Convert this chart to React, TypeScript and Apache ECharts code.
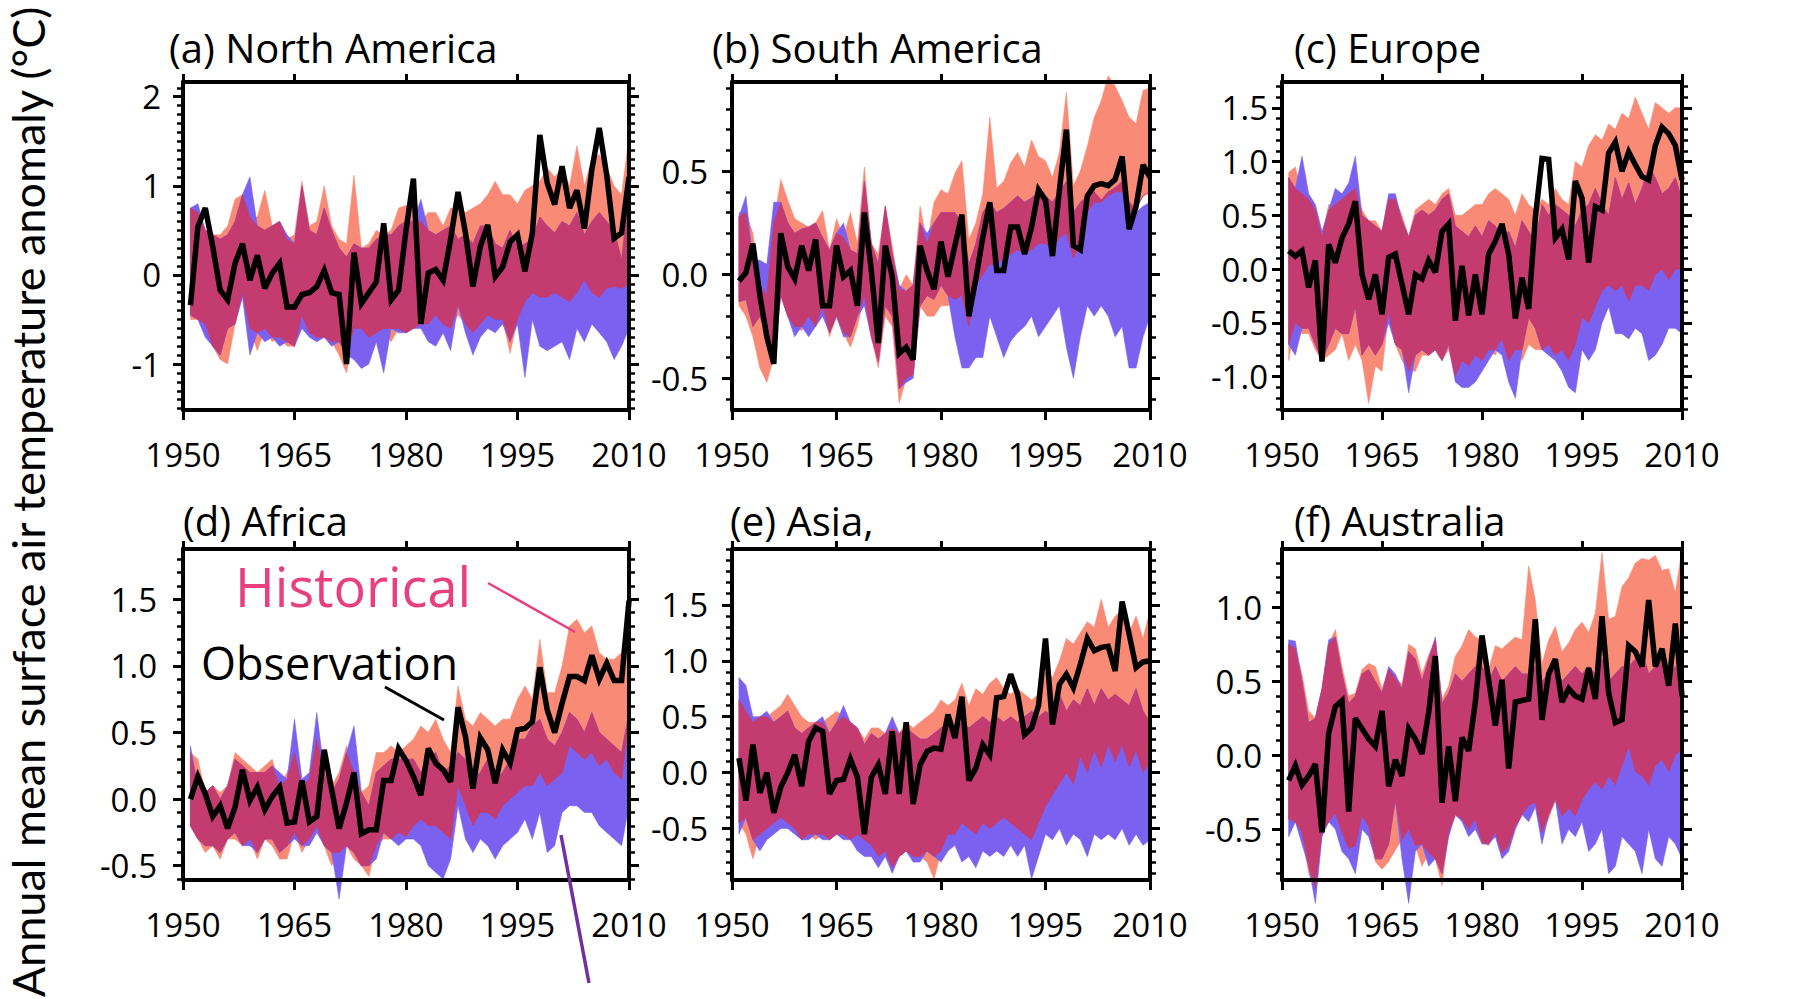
import React, { useEffect, useRef } from "react";
import * as echarts from "echarts";

// ---------------- data ----------------
const YEARS = [
  1951, 1952, 1953, 1954, 1955, 1956, 1957, 1958, 1959, 1960,
  1961, 1962, 1963, 1964, 1965, 1966, 1967, 1968, 1969, 1970,
  1971, 1972, 1973, 1974, 1975, 1976, 1977, 1978, 1979, 1980,
  1981, 1982, 1983, 1984, 1985, 1986, 1987, 1988, 1989, 1990,
  1991, 1992, 1993, 1994, 1995, 1996, 1997, 1998, 1999, 2000,
  2001, 2002, 2003, 2004, 2005, 2006, 2007, 2008, 2009, 2010,
];

// (a) North America
const NA_OBS = [
  -0.34, 0.54, 0.75, 0.32, -0.17, -0.28, 0.13, 0.35, -0.06, 0.22,
  -0.15, 0.02, 0.13, -0.36, -0.36, -0.22, -0.2, -0.13, 0.05, -0.2,
  -0.22, -1.0, 0.25, -0.32, -0.2, -0.08, 0.58, -0.28, -0.17, 0.5,
  1.08, -0.55, 0.02, 0.06, -0.06, 0.4, 0.93, 0.47, -0.13, 0.32,
  0.56, -0.02, 0.09, 0.37, 0.45, 0.04, 0.47, 1.57, 1.03, 0.79,
  1.22, 0.75, 0.95, 0.52, 1.18, 1.65, 1.12, 0.41, 0.47, 1.1,
];
const NA_HIST_HI = [
  0.75, 0.7, 0.5, 0.45, 0.45, 0.55, 0.85, 0.9, 0.65, 0.65,
  0.95, 0.55, 0.6, 0.4, 0.45, 1.05, 0.55, 0.6, 1.0, 0.55,
  0.4, 0.35, 1.12, 0.3, 0.35, 0.5, 0.45, 0.5, 0.75, 0.78,
  0.75, 0.6, 0.7, 0.7, 0.55, 0.75, 0.75, 0.7, 0.75, 0.8,
  0.9, 1.05, 0.9, 0.9, 0.8, 0.95, 1.0, 1.05, 1.2, 1.1,
  1.2, 1.0, 1.45, 1.0, 1.3, 1.35, 1.2, 1.0, 0.9, 1.55,
];
const NA_HIST_LO = [
  -0.5, -0.5, -0.55, -0.8, -0.95, -1.0, -0.55, -0.2, -0.6, -0.85,
  -0.6, -0.75, -0.7, -0.8, -0.8, -0.45, -0.65, -0.7, -0.7, -0.75,
  -0.9, -1.1, -0.6, -0.6, -0.7, -0.65, -0.6, -0.75, -0.6, -0.65,
  -0.6, -0.55, -0.55, -0.45, -0.55, -0.6, -0.45, -0.55, -0.65, -0.55,
  -0.45, -0.5, -0.5, -0.88, -0.5, -0.3, -0.2, -0.25, -0.25, -0.2,
  -0.25, -0.3, -0.2, -0.05, -0.2, -0.25, -0.15, -0.13, -0.15, -0.1,
];
const NA_NAT_HI = [
  0.75, 0.8, 0.5, 0.45, 0.4, 0.45, 0.6, 0.9, 1.1, 0.55,
  0.5, 0.55, 0.6, 0.45, 0.35, 1.0, 0.5, 0.45, 0.75, 0.5,
  0.3, 0.2, 0.35, 0.3, 0.3, 0.4, 0.45, 0.45, 0.55, 0.6,
  0.6, 0.85, 0.5, 0.45, 0.5, 0.55, 0.4, 0.45, 0.35, 0.55,
  0.55, 0.35, 0.3, 0.5, 0.3, 0.35, 0.4, 0.65, 0.55, 0.47,
  0.6, 0.55, 0.7, 0.45, 0.6, 0.7, 0.6, 0.5, 0.17, 0.9,
];
const NA_NAT_LO = [
  -0.45, -0.5, -0.7, -0.8, -0.9, -0.6, -0.55, -0.25, -0.9, -0.65,
  -0.75, -0.7, -0.8, -0.75, -0.8, -0.6, -0.7, -0.75, -0.7, -0.8,
  -0.75, -0.9, -0.95, -1.05, -1.0, -0.75, -1.1, -0.6, -0.65, -0.65,
  -0.6, -0.6, -0.75, -0.8, -0.65, -0.85, -0.34, -0.65, -0.9, -0.7,
  -0.6, -0.65, -0.55, -0.75, -0.55, -1.15, -0.5, -0.8, -0.85, -0.8,
  -0.75, -0.95, -0.6, -0.75, -0.55, -0.65, -0.75, -0.95, -0.8, -0.6,
];
const NA_TICKS = [-1, 0, 1, 2];

// (b) South America
const SA_OBS = [
  -0.03, 0.01, 0.15, -0.1, -0.3, -0.43, 0.2, 0.04, -0.02, 0.14,
  0.02, 0.17, -0.15, -0.15, 0.14, -0.01, 0.02, -0.15, 0.3, 0.02,
  -0.33, 0.14, -0.01, -0.38, -0.35, -0.41, 0.14, 0.02, -0.07, 0.16,
  -0.01, 0.14, 0.29, -0.2, -0.02, 0.18, 0.35, 0.02, 0.02, 0.23,
  0.23, 0.1, 0.23, 0.41, 0.36, 0.09, 0.41, 0.7, 0.14, 0.12,
  0.38, 0.43, 0.44, 0.43, 0.46, 0.57, 0.22, 0.33, 0.53, 0.47,
];
const SA_HIST_HI = [
  0.3, 0.3, 0.2, -0.05, -0.1, 0.25, 0.46, 0.36, 0.27, 0.25,
  0.23, 0.25, 0.31, 0.12, 0.27, 0.18, 0.3, 0.15, 0.52, 0.15,
  0.1, 0.33, 0.14, -0.07, 0.0, -0.05, 0.33, 0.15, 0.35, 0.41,
  0.39, 0.49, 0.55, 0.17, 0.25, 0.39, 0.76, 0.42, 0.45, 0.54,
  0.59, 0.52, 0.65, 0.57, 0.55, 0.47, 0.59, 0.88, 0.43, 0.5,
  0.62, 0.76, 0.84, 0.96, 0.91, 0.84, 0.76, 0.73, 0.89, 0.9,
];
const SA_HIST_LO = [
  -0.15, -0.2, -0.3, -0.45, -0.52, -0.4, -0.1, -0.2, -0.25, -0.27,
  -0.2, -0.25, -0.15, -0.3, -0.2, -0.28, -0.35, -0.25, -0.1, -0.3,
  -0.45, -0.2, -0.25, -0.62, -0.5, -0.48, -0.15, -0.2, -0.2, -0.15,
  -0.15, -0.12, -0.1, -0.25, -0.05, 0.0, 0.05, 0.05, 0.08, 0.1,
  0.12, 0.1, 0.12, 0.15, 0.15, 0.12, 0.18, 0.2, 0.08, 0.15,
  0.3, 0.35, 0.35, 0.38, 0.4, 0.4, 0.3, 0.32, 0.38, 0.4,
];
const SA_NAT_HI = [
  0.28, 0.38, 0.07, 0.07, 0.05, 0.35, 0.35, 0.25, 0.2, 0.22,
  0.23, 0.25, 0.18, 0.12, 0.2, 0.25, 0.12, 0.1, 0.45, 0.15,
  0.05, 0.33, 0.1, -0.05, -0.08, -0.05, 0.25, 0.2, 0.25, 0.3,
  0.3, 0.3, 0.25, 0.05, 0.15, 0.3, 0.35, 0.3, 0.32, 0.35,
  0.38, 0.35, 0.37, 0.4, 0.38, 0.35, 0.4, 0.45, 0.3, 0.35,
  0.38, 0.4, 0.36, 0.4, 0.42, 0.45, 0.35, 0.3, 0.33, 0.35,
];
const SA_NAT_LO = [
  -0.13, -0.12, -0.25, -0.2, -0.3, -0.38, -0.1, -0.2, -0.3, -0.25,
  -0.3, -0.25, -0.2, -0.28, -0.2, -0.3, -0.3, -0.2, -0.15, -0.3,
  -0.42, -0.15, -0.2, -0.55, -0.52, -0.5, -0.15, -0.1, -0.12, -0.05,
  -0.1, -0.3, -0.45, -0.45, -0.4, -0.4, -0.2, -0.3, -0.4, -0.32,
  -0.28, -0.25, -0.2, -0.3, -0.25, -0.2, -0.15, -0.35, -0.5, -0.3,
  -0.15, -0.2, -0.15, -0.2, -0.3, -0.25, -0.45, -0.45, -0.3, -0.2,
];
const SA_TICKS = [-0.5, 0, 0.5];

// (c) Europe
const EU_OBS = [
  0.17, 0.12, 0.17, -0.17, 0.08, -0.86, 0.23, 0.06, 0.29, 0.42,
  0.63, -0.05, -0.28, -0.05, -0.42, 0.11, 0.14, -0.14, -0.42, -0.05,
  -0.09, 0.08, -0.03, 0.35, 0.42, -0.48, 0.03, -0.43, -0.05, -0.42,
  0.14, 0.26, 0.42, 0.14, -0.46, -0.08, -0.37, 0.48, 1.03, 1.02,
  0.29, 0.37, 0.09, 0.82, 0.66, 0.06, 0.58, 0.55, 1.08, 1.18,
  0.91, 1.09, 0.97, 0.86, 0.83, 1.15, 1.32, 1.26, 1.15, 0.83,
];
const EU_HIST_HI = [
  0.9, 0.95, 0.7, 0.65, 0.55, 0.3, 0.6, 0.6, 0.65, 0.7,
  0.75, 0.55, 0.45, 0.45, 0.35, 0.65, 0.65, 0.5, 0.3, 0.55,
  0.6, 0.65, 0.6, 0.7, 0.75, 0.5, 0.5, 0.55, 0.6, 0.6,
  0.7, 0.75, 0.7, 0.65, 0.5, 0.7, 0.6, 0.55, 0.65, 0.6,
  0.75, 0.65, 0.6, 1.0, 0.95, 1.15, 1.25, 1.2, 1.35, 1.3,
  1.45, 1.4, 1.6, 1.45, 1.3, 1.55, 1.5, 1.45, 1.5, 1.5,
];
const EU_HIST_LO = [
  -0.85, -0.5, -0.6, -0.6, -0.75, -0.85, -0.8, -0.75, -0.6, -0.85,
  -0.7, -0.85, -1.25, -0.9, -0.95, -0.4, -0.7, -0.85, -0.95, -0.95,
  -0.8, -0.8, -0.75, -0.85, -0.75, -1.0, -0.85, -0.9, -0.8, -0.85,
  -0.75, -0.8, -0.65, -0.85, -0.75, -0.85, -0.7, -0.75, -0.75, -0.7,
  -0.8, -0.75, -0.85, -0.7, -0.45, -0.5, -0.35, -0.2, -0.15, -0.2,
  -0.15, -0.3, -0.15, -0.15, -0.2, -0.05, 0.0, -0.1, 0.0, 0.0,
];
const EU_NAT_HI = [
  0.85, 0.75, 1.05, 0.7, 0.6, 0.35, 0.55, 0.75, 0.7, 0.8,
  1.05, 0.5, 0.45, 0.4, 0.35, 0.7, 0.7, 0.45, 0.3, 0.5,
  0.55, 0.5, 0.55, 0.65, 0.7, 0.4, 0.35, 0.3, 0.4, 0.3,
  0.45, 0.4, 0.3, 0.35, 0.2, 0.45, 0.35, 0.25, 0.6, 0.5,
  0.6, 0.55, 0.5, 0.4, 0.55, 0.6, 0.75, 0.6, 0.5, 0.85,
  0.65, 0.8, 0.6, 0.75, 0.95, 0.85, 0.7, 0.75, 0.85, 0.65,
];
const EU_NAT_LO = [
  -0.7, -0.8, -0.55, -0.55, -0.7, -0.85, -0.7, -0.55, -0.6, -0.6,
  -0.35, -0.8, -0.7, -0.8, -0.7, -0.5, -0.7, -0.75, -1.15, -0.8,
  -0.75, -0.8, -0.75, -0.85, -0.7, -1.05, -1.1, -1.1, -1.05, -0.95,
  -0.85, -0.75, -0.8, -1.05, -1.2, -0.75, -0.45, -0.55, -0.75, -0.8,
  -0.85, -0.95, -1.1, -1.15, -0.75, -0.85, -0.75, -0.5, -0.35, -0.6,
  -0.6, -0.65, -0.55, -0.6, -0.85, -0.8, -0.7, -0.55, -0.55, -0.6,
];
const EU_TICKS = [-1, -0.5, 0, 0.5, 1, 1.5];

// (d) Africa
const AF_OBS = [
  0.0, 0.17, 0.04, -0.13, -0.05, -0.22, -0.06, 0.22, -0.01, 0.09,
  -0.08, 0.02, 0.09, -0.18, -0.17, 0.14, -0.17, -0.13, 0.37, 0.07,
  -0.22, -0.03, 0.2, -0.26, -0.23, -0.23, 0.14, 0.14, 0.38, 0.29,
  0.17, 0.03, 0.38, 0.27, 0.22, 0.13, 0.69, 0.47, 0.08, 0.46,
  0.37, 0.12, 0.37, 0.27, 0.52, 0.53, 0.58, 0.99, 0.67, 0.5,
  0.72, 0.92, 0.92, 0.89, 1.08, 0.9, 1.02, 0.89, 0.89, 1.49,
];
const AF_HIST_HI = [
  0.35, 0.3, 0.05, 0.1, 0.05, 0.1, 0.35, 0.3, 0.25, 0.2,
  0.25, 0.3, 0.1, 0.2, 0.35, 0.1, 0.15, 0.45, 0.3, 0.1,
  0.2, 0.4, 0.2, 0.05, 0.1, 0.35, 0.35, 0.4, 0.35, 0.4,
  0.45, 0.55, 0.5, 0.6, 0.45, 0.35, 0.85, 0.6, 0.55, 0.65,
  0.6, 0.55, 0.6, 0.6, 0.75, 0.85, 0.75, 1.2, 0.8, 0.8,
  1.0, 1.3, 1.35, 1.25, 1.3, 1.1, 1.05, 1.05, 1.1, 1.5,
];
const AF_HIST_LO = [
  -0.2, -0.3, -0.4, -0.35, -0.45, -0.3, -0.3, -0.35, -0.3, -0.45,
  -0.3, -0.35, -0.45, -0.45, -0.25, -0.4, -0.3, -0.2, -0.35, -0.5,
  -0.4, -0.35, -0.45, -0.5, -0.58, -0.35, -0.3, -0.3, -0.25, -0.28,
  -0.2, -0.15, -0.2, -0.2, -0.25, -0.3, 0.1, -0.05, -0.2, -0.1,
  -0.1, -0.15, -0.05, 0.0, 0.05, 0.1, 0.1, 0.2, 0.1, 0.15,
  0.2, 0.4, 0.35, 0.3, 0.35, 0.25, 0.3, 0.2, 0.15, 0.6,
];
const AF_NAT_HI = [
  0.4, 0.1, 0.05, 0.1, 0.0, 0.1, 0.3, 0.25, 0.2, 0.2,
  0.2, 0.25, 0.2, 0.15, 0.6, 0.15, 0.2, 0.65, 0.2, 0.05,
  0.15, 0.35, 0.55, 0.05, -0.05, 0.2, 0.25, 0.3, 0.3, 0.3,
  0.3, 0.2, 0.3, 0.35, 0.2, 0.25, 0.35, 0.3, 0.15, 0.2,
  0.3, 0.15, 0.2, 0.3, 0.45, 0.45, 0.55, 0.6, 0.45, 0.4,
  0.5, 0.65, 0.6, 0.5, 0.65, 0.5, 0.45, 0.4, 0.35, 0.65,
];
const AF_NAT_LO = [
  -0.2, -0.3, -0.35, -0.35, -0.4, -0.3, -0.25, -0.35, -0.35, -0.4,
  -0.3, -0.3, -0.4, -0.35, -0.3, -0.35, -0.35, -0.25, -0.35, -0.4,
  -0.75, -0.35, -0.4, -0.5, -0.5, -0.45, -0.25, -0.3, -0.35, -0.3,
  -0.3, -0.35, -0.5, -0.55, -0.6, -0.45, -0.05, -0.3, -0.4, -0.3,
  -0.35, -0.45, -0.35, -0.3, -0.25, -0.15, -0.3, -0.1, -0.4, -0.35,
  -0.1, -0.05, -0.05, -0.1, -0.1, -0.2, -0.25, -0.3, -0.35, -0.05,
];
const AF_TICKS = [-0.5, 0, 0.5, 1, 1.5];

// (e) Asia
const AS_OBS = [
  0.13, -0.25, 0.25, -0.18, 0.0, -0.36, -0.13, 0.0, 0.16, -0.12,
  0.28, 0.4, 0.37, -0.19, -0.07, -0.06, 0.12, -0.04, -0.55, -0.04,
  0.07, -0.19, 0.37, -0.19, 0.45, -0.28, 0.07, 0.19, 0.22, 0.21,
  0.52, 0.31, 0.68, -0.07, 0.04, 0.25, 0.16, 0.67, 0.68, 0.88,
  0.7, 0.34, 0.4, 0.6, 1.2, 0.43, 0.79, 0.88, 0.76, 0.97,
  1.2, 1.09, 1.12, 1.13, 0.91, 1.53, 1.24, 0.94, 0.99, 1.0,
];
const AS_HIST_HI = [
  0.65, 0.55, 0.45, 0.5, 0.5, 0.55, 0.6, 0.7, 0.6, 0.5,
  0.45, 0.45, 0.45, 0.5, 0.55, 0.5, 0.45, 0.4, 0.3, 0.4,
  0.4, 0.35, 0.4, 0.35, 0.45, 0.4, 0.45, 0.5, 0.55, 0.65,
  0.6, 0.65, 0.8, 0.6, 0.75, 0.7, 0.8, 0.85, 0.75, 0.7,
  0.75, 0.7, 0.65, 0.7, 0.9, 0.85, 1.0, 1.2, 1.15, 1.25,
  1.35, 1.3, 1.55, 1.3, 1.4, 1.45, 1.25, 1.4, 1.2, 1.45,
];
const AS_HIST_LO = [
  -0.45, -0.55, -0.77, -0.55, -0.5, -0.45, -0.4, -0.45, -0.5, -0.6,
  -0.55, -0.6, -0.55, -0.6, -0.55, -0.55, -0.6, -0.55, -0.6, -0.65,
  -0.75, -0.7, -0.85, -0.75, -0.7, -0.75, -0.75, -0.8, -0.95, -0.7,
  -0.55, -0.55, -0.45, -0.5, -0.55, -0.45, -0.5, -0.45, -0.4, -0.45,
  -0.5, -0.55, -0.6, -0.45, -0.3, -0.2, -0.1, 0.0, -0.1, 0.15,
  0.0, 0.2, 0.05, 0.25, 0.1, 0.25, 0.05, 0.2, 0.0, 0.1,
];
const AS_NAT_HI = [
  0.85, 0.78, 0.5, 0.5, 0.55, 0.45, 0.5, 0.55, 0.4, 0.35,
  0.4, 0.45, 0.5, 0.35, 0.45, 0.6, 0.45, 0.4, 0.25, 0.35,
  0.3, 0.35, 0.5, 0.35, 0.4, 0.35, 0.3, 0.3, 0.35, 0.4,
  0.45, 0.4, 0.45, 0.4, 0.45, 0.5, 0.45, 0.5, 0.45, 0.5,
  0.45, 0.5, 0.55, 0.5, 0.55, 0.5, 0.7, 0.55, 0.65, 0.6,
  0.75, 0.6, 0.75, 0.65, 0.7, 0.65, 0.6, 0.75, 0.55, 0.45,
];
const AS_NAT_LO = [
  -0.55, -0.4, -0.6, -0.7, -0.6, -0.55, -0.5, -0.5, -0.55, -0.6,
  -0.6, -0.55, -0.6, -0.6, -0.55, -0.6, -0.6, -0.7, -0.75, -0.75,
  -0.85, -0.75, -0.9, -0.75, -0.7, -0.8, -0.8, -0.7, -0.75, -0.8,
  -0.7, -0.65, -0.8, -0.75, -0.85, -0.7, -0.75, -0.7, -0.75, -0.65,
  -0.75, -0.65, -0.95, -0.75, -0.55, -0.6, -0.5, -0.65, -0.55, -0.6,
  -0.75, -0.55, -0.6, -0.55, -0.6, -0.5, -0.65, -0.55, -0.65, -0.6,
];
const AS_TICKS = [-0.5, 0, 0.5, 1, 1.5];

// (f) Australia
const AU_OBS = [
  -0.17, -0.07, -0.2, -0.14, -0.06, -0.52, 0.15, 0.33, 0.37, -0.38,
  0.25, 0.18, 0.11, 0.06, 0.3, -0.21, -0.03, -0.14, 0.18, 0.11,
  0.01, 0.29, 0.67, -0.32, 0.06, -0.31, 0.12, 0.03, 0.36, 0.81,
  0.51, 0.2, 0.51, -0.09, 0.36, 0.37, 0.38, 0.92, 0.24, 0.55,
  0.65, 0.36, 0.45, 0.4, 0.38, 0.59, 0.38, 0.94, 0.42, 0.22,
  0.24, 0.74, 0.7, 0.6, 1.05, 0.6, 0.72, 0.47, 0.89, 0.4,
];
const AU_HIST_HI = [
  0.75, 0.72, 0.55, 0.3, 0.25, 0.45, 0.75, 0.85, 0.6, 0.4,
  0.42, 0.58, 0.62, 0.6, 0.45, 0.58, 0.52, 0.48, 0.75, 0.72,
  0.55, 0.68, 0.78, 0.38, 0.47, 0.67, 0.74, 0.85, 0.8, 0.78,
  0.58, 0.74, 0.72, 0.76, 0.8, 0.78, 1.28, 1.05, 0.62, 0.78,
  0.87, 0.7, 0.76, 0.85, 0.9, 0.83, 0.96, 1.37, 0.92, 0.94,
  1.14, 1.2, 1.3, 1.33, 1.32, 1.35, 1.25, 1.26, 1.1, 1.39,
];
const AU_HIST_LO = [
  -0.43, -0.45, -0.52, -0.8, -0.9, -0.52, -0.45, -0.39, -0.52, -0.63,
  -0.61, -0.41, -0.48, -0.72, -0.77, -0.72, -0.64, -0.57, -0.5, -0.61,
  -0.75, -0.66, -0.7, -0.88, -0.52, -0.41, -0.43, -0.5, -0.43, -0.59,
  -0.61, -0.52, -0.66, -0.61, -0.48, -0.41, -0.34, -0.32, -0.52, -0.43,
  -0.3, -0.41, -0.36, -0.41, -0.3, -0.23, -0.18, -0.23, -0.14, -0.2,
  -0.07, 0.06, -0.11, -0.14, -0.2, -0.07, -0.03, -0.11, 0.0, 0.04,
];
const AU_NAT_HI = [
  0.78, 0.77, 0.5, 0.22, 0.25, 0.45, 0.78, 0.8, 0.55, 0.35,
  0.4, 0.55, 0.58, 0.5, 0.42, 0.6, 0.55, 0.45, 0.7, 0.65,
  0.5, 0.65, 0.8, 0.35, 0.42, 0.55, 0.5, 0.55, 0.6, 0.6,
  0.5, 0.6, 0.5, 0.55, 0.6, 0.55, 0.55, 0.6, 0.5, 0.55,
  0.6, 0.5, 0.55, 0.6, 0.55, 0.6, 0.55, 0.65, 0.5, 0.55,
  0.6, 0.6, 0.65, 0.7, 0.55, 0.6, 0.65, 0.55, 0.6, 0.5,
];
const AU_NAT_LO = [
  -0.55, -0.45, -0.6, -0.75, -1.0, -0.55, -0.45, -0.5, -0.65, -0.7,
  -0.8, -0.5, -0.55, -0.7, -0.7, -0.6, -0.3, -0.7, -1.0, -0.65,
  -0.6, -0.75, -0.7, -0.8, -0.55, -0.4, -0.45, -0.55, -0.5, -0.6,
  -0.6, -0.55, -0.7, -0.65, -0.5, -0.4, -0.45, -0.35, -0.6, -0.4,
  -0.3, -0.6, -0.5, -0.55, -0.45, -0.65, -0.6, -0.5, -0.8, -0.75,
  -0.55, -0.6, -0.65, -0.8, -0.5, -0.7, -0.75, -0.55, -0.6, -0.7,
];
const AU_TICKS = [-0.5, 0, 0.5, 1];

const TITLES = [
  "(a) North America",
  "(b) South America",
  "(c) Europe",
  "(d) Africa",
  "(e) Asia,",
  "(f) Australia",
];
const Y_TITLE = "Annual mean surface air temperature anomaly (°C)";

// ---------------- layout / style ----------------
const FONT = '"Open Sans", "Noto Sans", sans-serif';
const C_HIST = "#F98B76";
const C_NAT = "#7B61EF";
const C_BOTH = "#C43B70";

const PANELS = [
  { obs: NA_OBS, hHi: NA_HIST_HI, hLo: NA_HIST_LO, nHi: NA_NAT_HI, nLo: NA_NAT_LO, ticks: NA_TICKS, dec: 0,
    min: -1.516, max: 2.165, left: 183, top: 82, width: 446, height: 328, lm: 22, tx: 169, ty: 47 },
  { obs: SA_OBS, hHi: SA_HIST_HI, hLo: SA_HIST_LO, nHi: SA_NAT_HI, nLo: SA_NAT_LO, ticks: SA_TICKS, dec: 1,
    min: -0.653, max: 0.93, left: 732, top: 82, width: 418, height: 328, lm: 24, tx: 712, ty: 47 },
  { obs: EU_OBS, hHi: EU_HIST_HI, hLo: EU_HIST_LO, nHi: EU_NAT_HI, nLo: EU_NAT_LO, ticks: EU_TICKS, dec: 1,
    min: -1.31, max: 1.74, left: 1282, top: 82, width: 400, height: 328, lm: 14, tx: 1294, ty: 47 },
  { obs: AF_OBS, hHi: AF_HIST_HI, hLo: AF_HIST_LO, nHi: AF_NAT_HI, nLo: AF_NAT_LO, ticks: AF_TICKS, dec: 1,
    min: -0.607, max: 1.878, left: 183, top: 549, width: 446, height: 331, lm: 26, tx: 183, ty: 520 },
  { obs: AS_OBS, hHi: AS_HIST_HI, hLo: AS_HIST_LO, nHi: AS_NAT_HI, nLo: AS_NAT_LO, ticks: AS_TICKS, dec: 1,
    min: -0.96, max: 2.0, left: 732, top: 549, width: 418, height: 331, lm: 24, tx: 730, ty: 520 },
  { obs: AU_OBS, hHi: AU_HIST_HI, hLo: AU_HIST_LO, nHi: AU_NAT_HI, nLo: AU_NAT_LO, ticks: AU_TICKS, dec: 1,
    min: -0.843, max: 1.394, left: 1282, top: 549, width: 400, height: 331, lm: 20, tx: 1294, ty: 520 },
];

function minorValues(min: number, max: number) {
  const out: number[] = [];
  for (let k = Math.ceil(min * 10); k <= Math.floor(max * 10); k++) out.push(k / 10);
  return out;
}

function bandSeries(xi: number, yi: number, lo: number[], hi: number[], color: string, z: number) {
  return {
    type: "custom",
    xAxisIndex: xi,
    yAxisIndex: yi,
    silent: true,
    clip: false,
    z,
    encode: { x: 0, y: [1, 2] },
    data: YEARS.map((y, k) => [y, lo[k], hi[k]]),
    renderItem: (params: any, api: any) => {
      if (params.dataIndex !== 0) return null;
      const upper = YEARS.map((y, k) => api.coord([y, hi[k]]));
      const lower = YEARS.map((y, k) => api.coord([y, lo[k]])).reverse();
      return {
        type: "polygon",
        shape: { points: upper.concat(lower) },
        style: { fill: color, stroke: color, lineWidth: 0.6 },
      };
    },
  };
}

function buildOption() {
  const grid: any[] = [];
  const xAxis: any[] = [];
  const yAxis: any[] = [];
  const series: any[] = [];
  const graphic: any[] = [];

  PANELS.forEach((p, i) => {
    grid.push({ left: p.left, top: p.top, width: p.width, height: p.height, containLabel: false, outerBoundsMode: "none" });
    const lineStyle = { color: "#000", width: 4 };
    xAxis.push({
      gridIndex: i, type: "value", min: 1950, max: 2010, interval: 15, position: "bottom", z: 10,
      axisLine: { show: true, onZero: false, lineStyle },
      axisTick: { show: true, inside: false, length: 10, lineStyle: { color: "#000", width: 3 } },
      axisLabel: { show: true, color: "#000", fontSize: 33, fontFamily: FONT, margin: 28, showMinLabel: true, showMaxLabel: true,
        formatter: (v: number) => String(v) },
      splitLine: { show: false },
    });
    xAxis.push({
      gridIndex: i, type: "value", min: 1950, max: 2010, interval: 15, position: "top", z: 10,
      axisLine: { show: true, onZero: false, lineStyle },
      axisTick: { show: true, inside: false, length: 8, lineStyle: { color: "#000", width: 3 } },
      axisLabel: { show: false },
      splitLine: { show: false },
    });
    const minors = minorValues(p.min, p.max);
    const fmt = (v: number) => (p.dec === 0 ? String(Math.round(v)) : v.toFixed(1));
    yAxis.push({
      gridIndex: i, type: "value", min: p.min, max: p.max, position: "left", z: 10,
      axisLine: { show: true, onZero: false, lineStyle },
      axisTick: { show: true, inside: false, length: 10, customValues: p.ticks, lineStyle: { color: "#000", width: 3 } },
      axisLabel: { show: true, customValues: p.ticks, formatter: fmt, color: "#000", fontSize: 33, fontFamily: FONT, margin: p.lm },
      splitLine: { show: false },
    });
    yAxis.push({
      gridIndex: i, type: "value", min: p.min, max: p.max, position: "left", z: 10,
      axisLine: { show: false, onZero: false },
      axisTick: { show: true, inside: false, length: 6, customValues: minors, lineStyle: { color: "#000", width: 2.5 } },
      axisLabel: { show: false },
      splitLine: { show: false },
    });
    yAxis.push({
      gridIndex: i, type: "value", min: p.min, max: p.max, position: "right", z: 10,
      axisLine: { show: true, onZero: false, lineStyle },
      axisTick: { show: true, inside: false, length: 10, customValues: p.ticks, lineStyle: { color: "#000", width: 3 } },
      axisLabel: { show: false },
      splitLine: { show: false },
    });
    yAxis.push({
      gridIndex: i, type: "value", min: p.min, max: p.max, position: "right", z: 10,
      axisLine: { show: false, onZero: false },
      axisTick: { show: true, inside: false, length: 6, customValues: minors, lineStyle: { color: "#000", width: 2.5 } },
      axisLabel: { show: false },
      splitLine: { show: false },
    });

    const xi = i * 2;
    const yi = i * 4;
    series.push(bandSeries(xi, yi, p.hLo, p.hHi, C_HIST, 2));
    series.push(bandSeries(xi, yi, p.nLo, p.nHi, C_NAT, 3));
    const bLo = YEARS.map((_, k) => Math.max(p.hLo[k], p.nLo[k]));
    const bHi = YEARS.map((_, k) => Math.max(bLo[k], Math.min(p.hHi[k], p.nHi[k])));
    series.push(bandSeries(xi, yi, bLo, bHi, C_BOTH, 4));
    series.push({
      type: "line", xAxisIndex: xi, yAxisIndex: yi,
      data: YEARS.map((y, k) => [y, p.obs[k]]), symbol: "none", silent: true, z: 6,
      lineStyle: { color: "#000", width: 5.5, join: "miter", miterLimit: 3 },
    });

    graphic.push({
      type: "text", x: p.tx, y: p.ty, z: 20,
      style: { text: TITLES[i], fill: "#000", font: `40px ${FONT}`, textAlign: "left", textVerticalAlign: "middle" },
    });
  });

  graphic.push({
    type: "text", x: 28, y: 502, rotation: Math.PI / 2, z: 20,
    style: { text: Y_TITLE, fill: "#000", font: `45px Lato, "Open Sans", sans-serif`, textAlign: "center", textVerticalAlign: "middle" },
  });
  graphic.push({
    type: "text", x: 235, y: 586, z: 30,
    style: { text: "Historical", fill: "#E8407F", font: `54px ${FONT}`, textAlign: "left", textVerticalAlign: "middle" },
  });
  graphic.push({
    type: "line", z: 30, shape: { x1: 488, y1: 583, x2: 575, y2: 632 }, style: { stroke: "#E8407F", lineWidth: 2.5 },
  });
  graphic.push({
    type: "text", x: 201, y: 662, z: 30,
    style: { text: "Observation", fill: "#000", font: `45px ${FONT}`, textAlign: "left", textVerticalAlign: "middle" },
  });
  graphic.push({
    type: "line", z: 30, shape: { x1: 385, y1: 687, x2: 444, y2: 720 }, style: { stroke: "#000", lineWidth: 3 },
  });
  graphic.push({
    type: "line", z: 30, shape: { x1: 561, y1: 835, x2: 589, y2: 983 }, style: { stroke: "#7030A0", lineWidth: 3.5 },
  });

  return {
    animation: false,
    backgroundColor: "#fff",
    grid, xAxis, yAxis, series, graphic,
  };
}

export default function App() {
  const ref = useRef<HTMLDivElement>(null);
  useEffect(() => {
    if (!ref.current) return;
    const chart = echarts.init(ref.current, undefined, { renderer: "svg" });
    chart.setOption(buildOption() as any);
    return () => chart.dispose();
  }, []);
  return (
    <div
      ref={ref}
      style={{ position: "fixed", left: 0, top: 0, width: 1794, height: 999, background: "#fff" }}
    />
  );
}
